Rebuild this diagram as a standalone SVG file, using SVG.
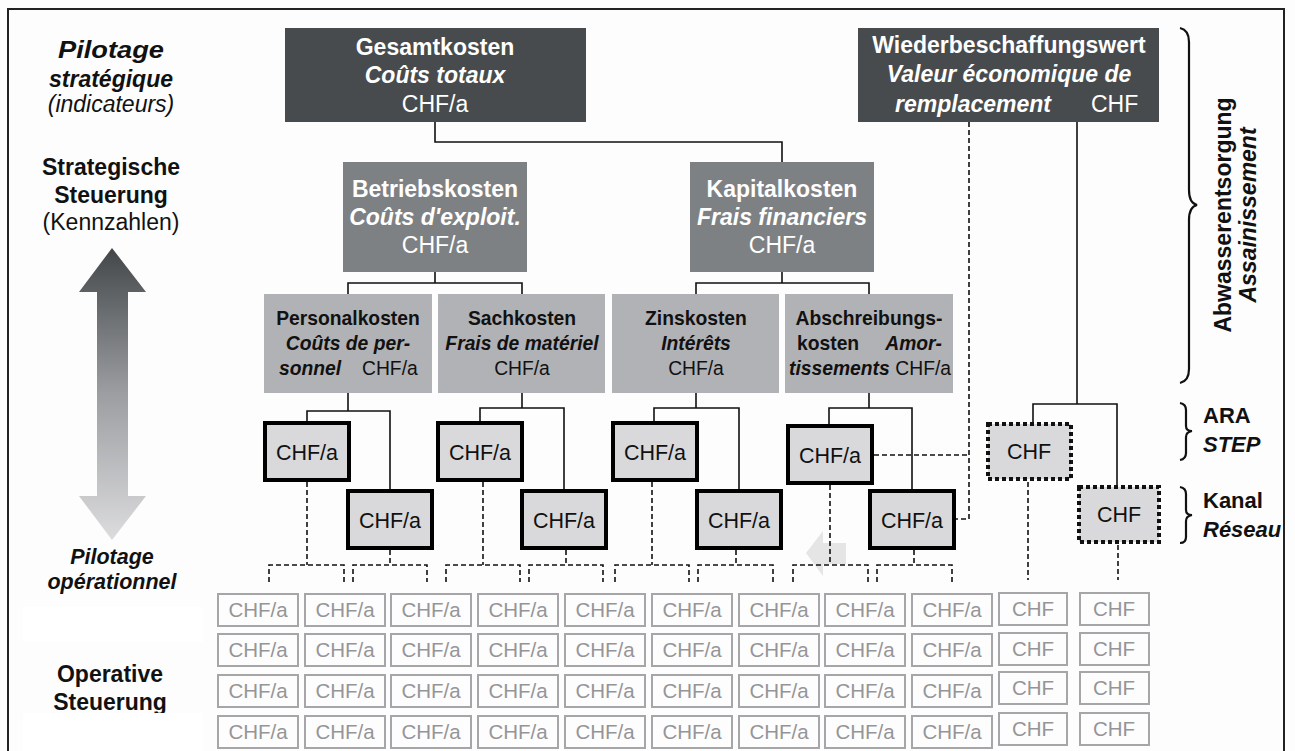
<svg xmlns="http://www.w3.org/2000/svg" width="1295" height="751" viewBox="0 0 1295 751">
<style>
text{font-family:"Liberation Sans",Arial,sans-serif;}
.b{font-weight:bold}
.i{font-style:italic}
.bi{font-weight:bold;font-style:italic}
.s23{font-size:23px}
.s22{font-size:22px}
.s215{font-size:21.5px}
.s19{font-size:19.3px}
.s21{font-size:21.5px}
.w{fill:#ffffff}
.k{fill:#111111}
.l1{fill:#474b4e}
.l2{fill:#7e8184}
.l3{fill:#b1b2b5}
.l4{fill:#d9d9db;stroke:#000;stroke-width:4}
.dot{fill:#d9d9db;stroke:#111;stroke-width:4;stroke-dasharray:4 3}
.cell{fill:none;stroke:#a6a6a9;stroke-width:2}
.ct{fill:#959598;font-size:20.5px;text-anchor:middle}
.solid{fill:none;stroke:#111;stroke-width:1.6}
.dash{fill:none;stroke:#111;stroke-width:1.6;stroke-dasharray:5 3}
.brace{fill:none;stroke:#111;stroke-width:2.2}
</style>
<defs>
<linearGradient id="gArrow" x1="0" y1="248" x2="0" y2="540" gradientUnits="userSpaceOnUse">
<stop offset="0" stop-color="#43474a"/>
<stop offset="0.5" stop-color="#9c9ea1"/>
<stop offset="1" stop-color="#dcdcde"/>
</linearGradient>
</defs>
<rect x="0" y="0" width="1295" height="751" fill="#fdfdfd"/>
<rect x="8" y="9" width="1276" height="760" fill="none" stroke="#222" stroke-width="2"/>

<!-- left labels -->
<g id="labels-left" text-anchor="middle">
<text x="111" y="58" class="bi s23 k" textLength="106" lengthAdjust="spacingAndGlyphs">Pilotage</text>
<text x="111" y="87" class="bi s23 k">stratégique</text>
<text x="111" y="112" class="i s23 k">(indicateurs)</text>
<text x="111" y="175" class="b s23 k">Strategische</text>
<text x="111" y="203" class="b s23 k">Steuerung</text>
<text x="111" y="230" class="s23 k">(Kennzahlen)</text>
<text x="112" y="564" class="bi s215 k">Pilotage</text>
<text x="112" y="589" class="bi s215 k">opérationnel</text>
<text x="110" y="682" class="b s23 k">Operative</text>
<text x="110" y="710" class="b s23 k">Steuerung</text>
</g>
<rect x="23" y="607" width="180" height="35" fill="#ffffff"/>
<rect x="23" y="713" width="180" height="40" fill="#ffffff"/>

<!-- vertical double arrow -->
<polygon id="double-arrow" points="112,248 146,292 128,292 128,496 146,496 112,540 79,496 97,496 97,292 79,292" fill="url(#gArrow)"/>

<!-- light arrow -->
<polygon id="light-arrow" points="806,553 823,531 823,543 846,543 846,564 823,564 823,576" fill="#e5e5e6"/>

<!-- connectors -->
<g id="connectors">
<path class="solid" d="M435,122 V142 H782 V162"/>
<path class="solid" d="M435,272 V283 M348,294 V283 H522 V294"/>
<path class="solid" d="M782,272 V283 M696,294 V283 H869 V294"/>
<path class="solid" d="M348,393 V411 M307,421 V411 H390 V489"/>
<path class="solid" d="M522,393 V408 M480,421 V408 H564 V489"/>
<path class="solid" d="M696,393 V408 M654,421 V408 H739 V489"/>
<path class="solid" d="M869,393 V408 M829,424 V408 H912 V489"/>
<path class="solid" d="M1077,122 V404 M1033,422 V404 H1117 V485"/>
<path class="dash" d="M969,122 V519 H956"/>
<path class="dash" d="M874,455 H969"/>
<path class="dash" d="M307,482 V565 M390,550 V565 M483,482 V565 M566,550 V565 M652,482 V565 M736,550 V565 M830,485 V565 M914,550 V565"/>
<path class="dash" d="M269,582 V565 H344 V582 M353,582 V565 H427 V582 M446,582 V565 H520 V582 M529,582 V565 H603 V582 M615,582 V565 H689 V582 M698,582 V565 H773 V582 M793,582 V565 H868 V582 M877,582 V565 H952 V582"/>
<path class="dash" d="M1028,482 V580 M1118,545 V580"/>
</g>

<!-- level 1 -->
<g id="gesamtkosten" text-anchor="middle">
<rect x="285" y="28" width="301" height="94" class="l1"/>
<text x="435" y="55" class="b s23 w">Gesamtkosten</text>
<text x="435" y="83" class="bi s23 w">Coûts totaux</text>
<text x="435" y="112" class="s23 w">CHF/a</text>
</g>
<g id="wiederbeschaffungswert">
<rect x="858" y="28" width="301" height="94" class="l1"/>
<text x="1009" y="53" class="b s23 w" text-anchor="middle">Wiederbeschaffungswert</text>
<text x="1009" y="82" class="bi s23 w" text-anchor="middle">Valeur économique de</text>
<text x="895" y="112" class="bi s23 w">remplacement</text>
<text x="1091" y="112" class="s23 w">CHF</text>
</g>

<!-- level 2 -->
<g id="betriebskosten" text-anchor="middle">
<rect x="343" y="162" width="184" height="110" class="l2"/>
<text x="435" y="197" class="b s23 w">Betriebskosten</text>
<text x="435" y="225" class="bi s23 w">Coûts d'exploit.</text>
<text x="435" y="253" class="s23 w">CHF/a</text>
</g>
<g id="kapitalkosten" text-anchor="middle">
<rect x="690" y="162" width="184" height="110" class="l2"/>
<text x="782" y="197" class="b s23 w">Kapitalkosten</text>
<text x="782" y="225" class="bi s23 w">Frais financiers</text>
<text x="782" y="253" class="s23 w">CHF/a</text>
</g>

<!-- level 3 -->
<g id="personalkosten">
<rect x="264" y="294" width="168" height="99" class="l3"/>
<text x="348" y="325" class="b s19 k" text-anchor="middle">Personalkosten</text>
<text x="348" y="350" class="bi s19 k" text-anchor="middle">Coûts de per-</text>
<text x="279" y="375" class="bi s19 k">sonnel</text>
<text x="362" y="375" class="s19 k">CHF/a</text>
</g>
<g id="sachkosten" text-anchor="middle">
<rect x="438" y="294" width="167" height="99" class="l3"/>
<text x="522" y="325" class="b s19 k">Sachkosten</text>
<text x="522" y="350" class="bi s19 k">Frais de matériel</text>
<text x="522" y="375" class="s19 k">CHF/a</text>
</g>
<g id="zinskosten" text-anchor="middle">
<rect x="612" y="294" width="167" height="99" class="l3"/>
<text x="696" y="325" class="b s19 k">Zinskosten</text>
<text x="696" y="350" class="bi s19 k">Intérêts</text>
<text x="696" y="375" class="s19 k">CHF/a</text>
</g>
<g id="abschreibungskosten">
<rect x="785" y="294" width="168" height="99" class="l3"/>
<text x="869" y="325" class="b s19 k" text-anchor="middle">Abschreibungs-</text>
<text x="797" y="350" class="b s19 k">kosten</text>
<text x="942" y="350" class="bi s19 k" text-anchor="end">Amor-</text>
<text x="789" y="375" class="bi s19 k">tissements</text>
<text x="951" y="375" class="s19 k" text-anchor="end">CHF/a</text>
</g>

<!-- level 4 -->
<g id="l4-1a"><rect x="265" y="423" width="84" height="57" class="l4"/><text x="307" y="460" class="s21 k" text-anchor="middle">CHF/a</text></g>
<g id="l4-1b"><rect x="348" y="491" width="84" height="57" class="l4"/><text x="390" y="528" class="s21 k" text-anchor="middle">CHF/a</text></g>
<g id="l4-2a"><rect x="438" y="423" width="84" height="57" class="l4"/><text x="480" y="460" class="s21 k" text-anchor="middle">CHF/a</text></g>
<g id="l4-2b"><rect x="522" y="491" width="84" height="57" class="l4"/><text x="564" y="528" class="s21 k" text-anchor="middle">CHF/a</text></g>
<g id="l4-3a"><rect x="613" y="423" width="84" height="57" class="l4"/><text x="655" y="460" class="s21 k" text-anchor="middle">CHF/a</text></g>
<g id="l4-3b"><rect x="697" y="491" width="84" height="57" class="l4"/><text x="739" y="528" class="s21 k" text-anchor="middle">CHF/a</text></g>
<g id="l4-4a"><rect x="788" y="426" width="84" height="57" class="l4"/><text x="830" y="463" class="s21 k" text-anchor="middle">CHF/a</text></g>
<g id="l4-4b"><rect x="870" y="491" width="84" height="57" class="l4"/><text x="912" y="528" class="s21 k" text-anchor="middle">CHF/a</text></g>

<g id="ara-chf"><rect x="988" y="424" width="83" height="55" class="dot"/><text x="1029" y="459" class="s21 k" text-anchor="middle">CHF</text></g>
<g id="kanal-chf"><rect x="1079" y="487" width="80" height="55" class="dot"/><text x="1119" y="522" class="s21 k" text-anchor="middle">CHF</text></g>

<!-- braces -->
<g id="brace-abwasser">
<path class="brace" d="M1180,28 Q1189,30 1189,42 V190 Q1189,203 1197,205 Q1189,207 1189,220 V369 Q1189,381 1180,383"/>
<text transform="translate(1231,215) rotate(-90)" class="b s23 k" text-anchor="middle">Abwasserentsorgung</text>
<text transform="translate(1256,215) rotate(-90)" class="bi s23 k" text-anchor="middle">Assainissement</text>
</g>
<g id="brace-ara">
<path class="brace" d="M1180,403 Q1186,404 1186,410 V426 Q1186,431 1192,431 Q1186,432 1186,437 V453 Q1186,459 1180,460"/>
<text x="1203" y="423" class="b s22 k">ARA</text>
<text x="1203" y="452" class="bi s22 k">STEP</text>
</g>
<g id="brace-kanal">
<path class="brace" d="M1180,487 Q1186,488 1186,494 V510 Q1186,515 1192,515 Q1186,516 1186,521 V537 Q1186,543 1180,543"/>
<text x="1203" y="508" class="b s22 k">Kanal</text>
<text x="1203" y="537" class="bi s22 k">Réseau</text>
</g>

<!-- grid -->
<g id="grid">
<rect class="cell" x="218" y="594" width="80" height="32"/><text class="ct" x="258" y="617">CHF/a</text>
<rect class="cell" x="305" y="594" width="80" height="32"/><text class="ct" x="345" y="617">CHF/a</text>
<rect class="cell" x="391" y="594" width="80" height="32"/><text class="ct" x="431" y="617">CHF/a</text>
<rect class="cell" x="478" y="594" width="80" height="32"/><text class="ct" x="518" y="617">CHF/a</text>
<rect class="cell" x="565" y="594" width="80" height="32"/><text class="ct" x="605" y="617">CHF/a</text>
<rect class="cell" x="652" y="594" width="80" height="32"/><text class="ct" x="692" y="617">CHF/a</text>
<rect class="cell" x="739" y="594" width="80" height="32"/><text class="ct" x="779" y="617">CHF/a</text>
<rect class="cell" x="825" y="594" width="80" height="32"/><text class="ct" x="865" y="617">CHF/a</text>
<rect class="cell" x="912" y="594" width="80" height="32"/><text class="ct" x="952" y="617">CHF/a</text>
<rect class="cell" x="999" y="593" width="68" height="32"/><text class="ct" x="1033" y="616">CHF</text>
<rect class="cell" x="1080" y="593" width="69" height="32"/><text class="ct" x="1114" y="616">CHF</text>

<rect class="cell" x="218" y="634" width="80" height="32"/><text class="ct" x="258" y="657">CHF/a</text>
<rect class="cell" x="305" y="634" width="80" height="32"/><text class="ct" x="345" y="657">CHF/a</text>
<rect class="cell" x="391" y="634" width="80" height="32"/><text class="ct" x="431" y="657">CHF/a</text>
<rect class="cell" x="478" y="634" width="80" height="32"/><text class="ct" x="518" y="657">CHF/a</text>
<rect class="cell" x="565" y="634" width="80" height="32"/><text class="ct" x="605" y="657">CHF/a</text>
<rect class="cell" x="652" y="634" width="80" height="32"/><text class="ct" x="692" y="657">CHF/a</text>
<rect class="cell" x="739" y="634" width="80" height="32"/><text class="ct" x="779" y="657">CHF/a</text>
<rect class="cell" x="825" y="634" width="80" height="32"/><text class="ct" x="865" y="657">CHF/a</text>
<rect class="cell" x="912" y="634" width="80" height="32"/><text class="ct" x="952" y="657">CHF/a</text>
<rect class="cell" x="999" y="633" width="68" height="32"/><text class="ct" x="1033" y="656">CHF</text>
<rect class="cell" x="1080" y="633" width="69" height="32"/><text class="ct" x="1114" y="656">CHF</text>

<rect class="cell" x="218" y="675" width="80" height="32"/><text class="ct" x="258" y="698">CHF/a</text>
<rect class="cell" x="305" y="675" width="80" height="32"/><text class="ct" x="345" y="698">CHF/a</text>
<rect class="cell" x="391" y="675" width="80" height="32"/><text class="ct" x="431" y="698">CHF/a</text>
<rect class="cell" x="478" y="675" width="80" height="32"/><text class="ct" x="518" y="698">CHF/a</text>
<rect class="cell" x="565" y="675" width="80" height="32"/><text class="ct" x="605" y="698">CHF/a</text>
<rect class="cell" x="652" y="675" width="80" height="32"/><text class="ct" x="692" y="698">CHF/a</text>
<rect class="cell" x="739" y="675" width="80" height="32"/><text class="ct" x="779" y="698">CHF/a</text>
<rect class="cell" x="825" y="675" width="80" height="32"/><text class="ct" x="865" y="698">CHF/a</text>
<rect class="cell" x="912" y="675" width="80" height="32"/><text class="ct" x="952" y="698">CHF/a</text>
<rect class="cell" x="999" y="672" width="68" height="32"/><text class="ct" x="1033" y="695">CHF</text>
<rect class="cell" x="1080" y="672" width="69" height="32"/><text class="ct" x="1114" y="695">CHF</text>

<rect class="cell" x="218" y="716" width="80" height="32"/><text class="ct" x="258" y="739">CHF/a</text>
<rect class="cell" x="305" y="716" width="80" height="32"/><text class="ct" x="345" y="739">CHF/a</text>
<rect class="cell" x="391" y="716" width="80" height="32"/><text class="ct" x="431" y="739">CHF/a</text>
<rect class="cell" x="478" y="716" width="80" height="32"/><text class="ct" x="518" y="739">CHF/a</text>
<rect class="cell" x="565" y="716" width="80" height="32"/><text class="ct" x="605" y="739">CHF/a</text>
<rect class="cell" x="652" y="716" width="80" height="32"/><text class="ct" x="692" y="739">CHF/a</text>
<rect class="cell" x="739" y="716" width="80" height="32"/><text class="ct" x="779" y="739">CHF/a</text>
<rect class="cell" x="825" y="716" width="80" height="32"/><text class="ct" x="865" y="739">CHF/a</text>
<rect class="cell" x="912" y="716" width="80" height="32"/><text class="ct" x="952" y="739">CHF/a</text>
<rect class="cell" x="999" y="713" width="68" height="32"/><text class="ct" x="1033" y="736">CHF</text>
<rect class="cell" x="1080" y="713" width="69" height="32"/><text class="ct" x="1114" y="736">CHF</text>
</g>
</svg>
